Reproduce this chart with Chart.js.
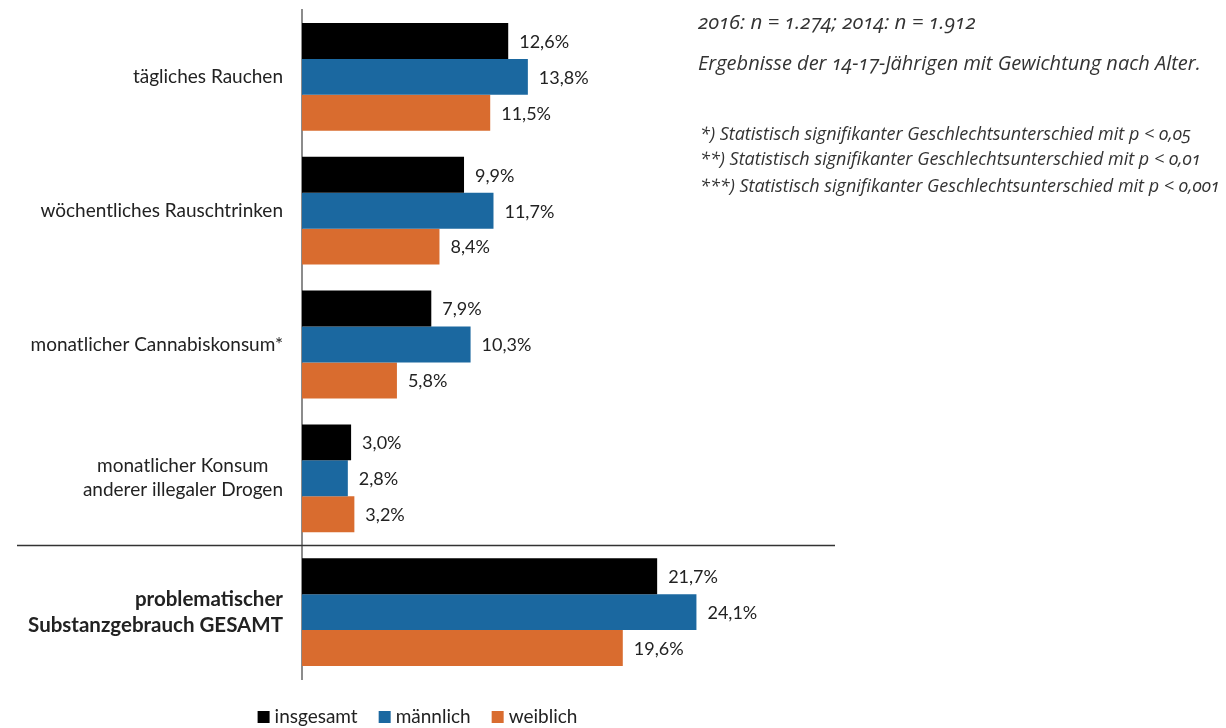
<!DOCTYPE html>
<html lang="de">
<head>
<meta charset="utf-8">
<title>Substanzkonsum der 14-17-Jährigen</title>
<script src="https://cdn.jsdelivr.net/npm/chart.js@4.4.1/dist/chart.umd.min.js"></script>
<style>
  body { margin: 0; background: #fff; font-family: Lato, "Noto Sans", sans-serif; color: #333; }
  #wrap { position: relative; width: 1226px; height: 728px; overflow: hidden; }
  #chart { position: absolute; left: 0; top: 0; }
  .note { position: absolute; left: 698px; margin: 0; white-space: nowrap; font-family: "Open Sans", sans-serif;
          font-style: italic; color: #333; font-variant-numeric: oldstyle-nums; }
  .n { top: 8px; font-size: 20.5px; line-height: 26px; }
  .desc { top: 50px; font-size: 20px; line-height: 26px; }
  .foot { left: 700px; font-size: 18px; line-height: 26px; }
</style>
</head>
<body>
<div id="wrap">
  <canvas id="chart" width="835" height="728"></canvas>
  <p class="note n">2016: n = 1.274; 2014: n = 1.912</p>
  <p class="note desc">Ergebnisse der 14-17-Jährigen mit Gewichtung nach Alter.</p>
  <p class="note foot" style="top:120px">*) Statistisch signifikanter Geschlechtsunterschied mit p &lt; 0,05</p>
  <p class="note foot" style="top:145px">**) Statistisch signifikanter Geschlechtsunterschied mit p &lt; 0,01</p>
  <p class="note foot" style="top:172px">***) Statistisch signifikanter Geschlechtsunterschied mit p &lt; 0,001</p>
</div>
<script>
const categories = [
    'tägliches Rauchen',
    'wöchentliches Rauschtrinken',
    'monatlicher Cannabiskonsum*',
    ['monatlicher Konsum\u00a0\u00a0\u00a0', 'anderer illegaler Drogen'],
    ['problematischer', 'Substanzgebrauch GESAMT']
];
const seriesNames = ['insgesamt', 'männlich', 'weiblich'];
const insgesamt = [12.6, 9.9, 7.9, 3.0, 21.7];
const maennlich = [13.8, 11.7, 10.3, 2.8, 24.1];
const weiblich = [11.5, 8.4, 5.8, 3.2, 19.6];
const colors = ['#000000', '#1b68a0', '#d96c2f'];

const FONT = 'Lato, "Noto Sans", sans-serif';

function fmt(v) {
    return v.toFixed(1).replace('.', ',') + '%';
}

// separator above the total group, value labels next to each bar, legend row
const extras = {
    id: 'extras',
    afterDatasetsDraw(chart) {
        const ctx = chart.ctx;
        const yScale = chart.scales.y;
        const sepY = Math.round(yScale.getPixelForValue(3.5)) + 0.5;

        ctx.save();
        ctx.strokeStyle = '#333';
        ctx.lineWidth = 1.5;
        ctx.beginPath();
        ctx.moveTo(17, sepY);
        ctx.lineTo(chart.width, sepY);
        ctx.stroke();

        ctx.font = '18px ' + FONT;
        ctx.fillStyle = '#222';
        ctx.textAlign = 'left';
        ctx.textBaseline = 'middle';
        chart.data.datasets.forEach((ds, i) => {
            chart.getDatasetMeta(i).data.forEach((bar, j) => {
                ctx.fillText(fmt(ds.data[j]), bar.x + 11, bar.y + 1);
            });
        });

        // legend
        ctx.font = '19px ' + FONT;
        const box = 12, gap = 5, spacing = 21, legendY = 717;
        const widths = chart.data.datasets.map(ds => box + gap + ctx.measureText(ds.label).width);
        const total = widths.reduce((a, b) => a + b, 0) + spacing * (widths.length - 1);
        let x = chart.width / 2 - total / 2;
        chart.data.datasets.forEach((ds, i) => {
            ctx.fillStyle = ds.backgroundColor;
            ctx.fillRect(x, legendY - box / 2, box, box);
            ctx.fillStyle = '#222';
            ctx.fillText(ds.label, x + box + gap, legendY);
            x += widths[i] + spacing;
        });
        ctx.restore();
    }
};

const ctx = document.getElementById('chart').getContext('2d');
const chart = new Chart(ctx, {
    type: 'bar',
    data: {
        labels: categories,
        datasets: [insgesamt, maennlich, weiblich].map((d, i) => ({
            label: seriesNames[i],
            data: d,
            backgroundColor: colors[i],
            borderWidth: 0,
            barPercentage: 1,
            categoryPercentage: 0.806
        }))
    },
    options: {
        indexAxis: 'y',
        responsive: false,
        animation: false,
        layout: { padding: { top: 10, right: 42, bottom: 49, left: 0 } },
        plugins: {
            tooltip: { enabled: false },
            legend: { display: false }
        },
        scales: {
            x: { display: false, min: 0, max: 30 },
            y: {
                grid: { display: false, drawTicks: false },
                border: { display: true, color: '#8c8c8c', width: 2 },
                ticks: {
                    color: '#222',
                    padding: 19,
                    crossAlign: 'near',
                    font: c => c.index === 4
                        ? { family: FONT, size: 20.5, lineHeight: 1.25, weight: 'bold' }
                        : { family: FONT, size: 19, lineHeight: 1.27 }
                },
                afterFit: s => {
                    s.width = 302;
                    s.paddingTop = 0;
                    s.paddingBottom = 0;
                }
            }
        }
    },
    plugins: [extras]
});
</script>
</body>
</html>
